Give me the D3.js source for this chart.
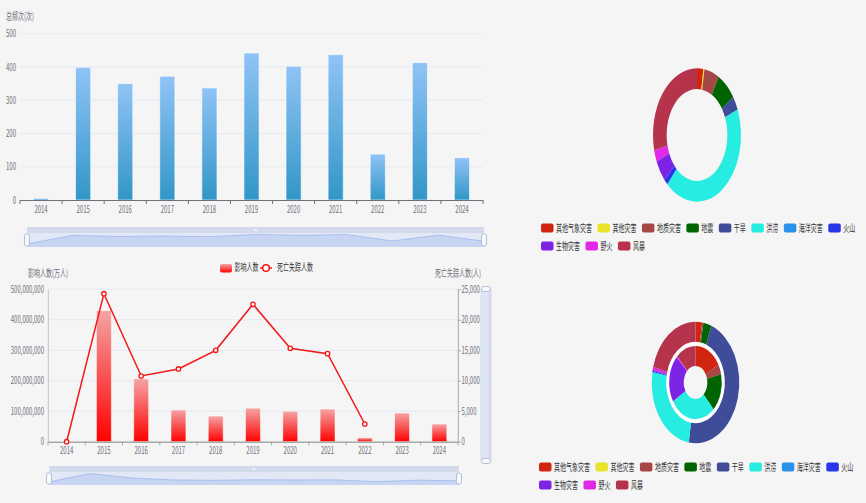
<!DOCTYPE html>
<html>
<head>
<meta charset="utf-8">
<script src="https://cdn.jsdelivr.net/npm/d3@7"></script>
<style>
html, body { margin: 0; padding: 0; background: #f5f5f5; }
svg { display: block; font-family: "Noto Sans CJK SC", "Noto Sans", sans-serif; }
</style>
</head>
<body>
<svg id="chart" width="866" height="503"></svg>
<script>
// data
var years = ["2014", "2015", "2016", "2017", "2018", "2019", "2020", "2021", "2022", "2023", "2024"];
var totalFreq = [5, 399, 350, 372, 337, 442, 402, 437, 138, 413, 127];
var affected = [500000, 430000000, 206000000, 104000000, 84000000, 110000000, 100000000, 107000000, 13000000, 94000000, 58000000];
var deaths = [0, 24280, 10780, 11930, 14990, 22540, 15320, 14440, 2900, null, null];

var types = ["其他气象灾害", "其他灾害", "地质灾害", "地震", "干旱", "洪涝", "海洋灾害", "火山", "生物灾害", "野火", "风暴"];
var typeColors = ["#d22511", "#ebe22c", "#a64646", "#006400", "#3e4c99", "#26ece2", "#2a92ea", "#2b36ea", "#7d23e6", "#e028e6", "#b5334b"];
var freqByType = [79, 14, 185, 246, 116, 1471, 0, 51, 178, 96, 979];
var affectedByType = [24, 0, 5, 30, 465, 253, 0, 3, 3, 8, 208];
var deathsByType = [168, 0, 46, 166, 0, 283, 0, 0, 208, 6, 122];

var legend2 = ["影响人数", "死亡失踪人数"];

// the picture is squeezed sideways, so draw wide and scale
var SX = 0.6, VW = 866 / SX;
function X(px) { return px / SX; }

var svg = d3.select("#chart")
	.attr("viewBox", "0 0 " + VW + " 503")
	.attr("preserveAspectRatio", "none");

var defs = svg.append("defs");
var gb = defs.append("linearGradient").attr("id", "blueGrad").attr("x1", 0).attr("y1", 0).attr("x2", 0).attr("y2", 1);
gb.append("stop").attr("offset", "0%").attr("stop-color", "#90c3f6");
gb.append("stop").attr("offset", "100%").attr("stop-color", "#3197c7");
var gr = defs.append("linearGradient").attr("id", "redGrad").attr("x1", 0).attr("y1", 0).attr("x2", 0).attr("y2", 1);
gr.append("stop").attr("offset", "0%").attr("stop-color", "#f5a4a4");
gr.append("stop").attr("offset", "100%").attr("stop-color", "#ff0000");

function styleAxis(g, color) {
	g.attr("font-family", null).attr("font-size", null);
	g.selectAll("text").attr("fill", "#6e7079").attr("font-size", 10);
	g.select(".domain").attr("stroke", color).attr("vector-effect", "non-scaling-stroke");
	g.selectAll(".tick line").attr("stroke", color).attr("vector-effect", "non-scaling-stroke");
}

// ---------- top bar chart ----------
var xTop = d3.scaleBand().domain(years).range([X(20), X(483)]);
var yTop = d3.scaleLinear().domain([0, 500]).range([200, 33.7]);
var gTop = svg.append("g");

gTop.selectAll("line.grid").data(yTop.ticks(5).filter(function(d) { return d > 0; }))
	.enter().append("line")
	.attr("x1", X(20)).attr("x2", X(483))
	.attr("y1", function(d) { return yTop(d); })
	.attr("y2", function(d) { return yTop(d); })
	.attr("stroke", "#e0e6f1");

var yTopAxis = gTop.append("g").attr("transform", "translate(" + X(20) + ",0)")
	.call(d3.axisLeft(yTop).ticks(5).tickSize(0).tickPadding(X(4)));
yTopAxis.select(".domain").remove();
styleAxis(yTopAxis, "#6e7079");

gTop.append("text").attr("x", X(6)).attr("y", 20).attr("font-size", 10).attr("fill", "#6e7079").text("总频次(次)");

gTop.selectAll("rect.bar").data(totalFreq).enter().append("rect")
	.attr("x", function(d, i) { return xTop(years[i]) + xTop.bandwidth() * 0.32; })
	.attr("width", xTop.bandwidth() * 0.36)
	.attr("y", function(d) { return yTop(d); })
	.attr("height", function(d) { return 200 - yTop(d); })
	.attr("fill", "url(#blueGrad)")
	.attr("stroke", "rgba(255,255,255,0.6)")
	.attr("vector-effect", "non-scaling-stroke");

var xTopAxis = gTop.append("g").attr("transform", "translate(0,200)")
	.call(d3.axisBottom(xTop).tickSize(0).tickSizeOuter(0).tickPadding(6));
styleAxis(xTopAxis, "#6e7079");
gTop.selectAll("line.btick").data(years.concat(["end"])).enter().append("line")
	.attr("x1", function(d) { return d == "end" ? X(483) : xTop(d); })
	.attr("x2", function(d) { return d == "end" ? X(483) : xTop(d); })
	.attr("y1", 200).attr("y2", 204)
	.attr("stroke", "#6e7079").attr("vector-effect", "non-scaling-stroke");

// ---------- sliders ----------
function slider(x0, x1, y0, y1, data) {
	var g = svg.append("g");
	g.append("rect").attr("x", X(x0)).attr("y", y0).attr("width", X(x1 - x0)).attr("height", y1 - y0)
		.attr("fill", "#e2e8f6");
	g.append("rect").attr("x", X(x0)).attr("y", y0).attr("width", X(x1 - x0)).attr("height", 6)
		.attr("fill", "#d3daec");
	g.append("rect").attr("x", X((x0 + x1) / 2 - 1.5)).attr("y", y0 + 2).attr("width", X(3)).attr("height", 2)
		.attr("fill", "#eef1f8");
	var sx = d3.scaleLinear().domain([0, data.length - 1]).range([X(x0), X(x1)]);
	var sy = d3.scaleLinear().domain([0, d3.max(data)]).range([y1 - 3, y0 + 7.5]);
	var area = d3.area().x(function(d, i) { return sx(i); }).y0(y1).y1(function(d) { return sy(d); });
	g.append("path").datum(data).attr("d", area).attr("fill", "#c8d5f2");
	var line = d3.line().x(function(d, i) { return sx(i); }).y(function(d) { return sy(d); });
	g.append("path").datum(data).attr("d", line).attr("fill", "none").attr("stroke", "#a9bff0")
		.attr("vector-effect", "non-scaling-stroke");
	[x0, x1].forEach(function(hx) {
		g.append("rect").attr("x", X(hx - 2.5)).attr("y", y0 + 7).attr("width", X(5)).attr("height", y1 - y0 - 8)
			.attr("rx", X(2)).attr("ry", 2)
			.attr("fill", "#f8f9fc").attr("stroke", "#b4bfd6").attr("vector-effect", "non-scaling-stroke");
	});
}
slider(27, 484, 227, 247, totalFreq);

// ---------- bottom bar + line chart ----------
var xBot = d3.scaleBand().domain(years).range([X(48), X(458)]);
var yL = d3.scaleLinear().domain([0, 500000000]).range([441.7, 289.3]);
var yR = d3.scaleLinear().domain([0, 25000]).range([441.7, 289.3]);
var gBot = svg.append("g");

gBot.selectAll("line.grid").data(yL.ticks(5).filter(function(d) { return d > 0; }))
	.enter().append("line")
	.attr("x1", X(48)).attr("x2", X(458))
	.attr("y1", function(d) { return yL(d); })
	.attr("y2", function(d) { return yL(d); })
	.attr("stroke", "#e0e6f1");

var yLAxis = gBot.append("g").attr("transform", "translate(" + X(48) + ",0)")
	.call(d3.axisLeft(yL).ticks(5).tickFormat(d3.format(",")).tickSize(0).tickSizeOuter(0).tickPadding(X(4)));
styleAxis(yLAxis, "#c4c4c4");
var yRAxis = gBot.append("g").attr("transform", "translate(" + X(458) + ",0)")
	.call(d3.axisRight(yR).ticks(5).tickFormat(d3.format(",")).tickSize(X(3)).tickSizeOuter(0).tickPadding(X(0.5)));
styleAxis(yRAxis, "#a8a8a8");

gBot.append("text").attr("x", X(48)).attr("y", 277).attr("text-anchor", "middle")
	.attr("font-size", 10).attr("fill", "#6e7079").text("影响人数(万人)");
gBot.append("text").attr("x", X(458)).attr("y", 277).attr("text-anchor", "middle")
	.attr("font-size", 10).attr("fill", "#6e7079").text("死亡失踪人数(人)");

gBot.selectAll("rect.bar").data(affected).enter().append("rect")
	.attr("x", function(d, i) { return xBot(years[i]) + xBot.bandwidth() * 0.3; })
	.attr("width", xBot.bandwidth() * 0.4)
	.attr("y", function(d) { return yL(d); })
	.attr("height", function(d) { return 441.7 - yL(d); })
	.attr("fill", "url(#redGrad)")
	.attr("stroke", "rgba(255,255,255,0.5)")
	.attr("vector-effect", "non-scaling-stroke");

var xBotAxis = gBot.append("g").attr("transform", "translate(0,441.7)")
	.call(d3.axisBottom(xBot).tickSize(0).tickSizeOuter(0).tickPadding(5));
styleAxis(xBotAxis, "#a8a8a8");
xBotAxis.select(".domain").attr("stroke-width", 1.5);
gBot.selectAll("line.btick").data(years.concat(["end"])).enter().append("line")
	.attr("x1", function(d) { return d == "end" ? X(458) : xBot(d); })
	.attr("x2", function(d) { return d == "end" ? X(458) : xBot(d); })
	.attr("y1", 441.7).attr("y2", 445.5)
	.attr("stroke", "#a8a8a8").attr("vector-effect", "non-scaling-stroke");

var deathLine = d3.line()
	.defined(function(d) { return d != null; })
	.x(function(d, i) { return xBot(years[i]) + xBot.bandwidth() / 2; })
	.y(function(d) { return yR(d); });
gBot.append("path").datum(deaths).attr("d", deathLine)
	.attr("fill", "none").attr("stroke", "#f21818").attr("stroke-width", 1.5)
	.attr("vector-effect", "non-scaling-stroke");
gBot.selectAll("ellipse.pt").data(deaths.map(function(d, i) { return [i, d]; }).filter(function(p) { return p[1] != null; }))
	.enter().append("ellipse")
	.attr("cx", function(p) { return xBot(years[p[0]]) + xBot.bandwidth() / 2; })
	.attr("cy", function(p) { return yR(p[1]); })
	.attr("rx", X(2.2)).attr("ry", 2.2)
	.attr("fill", "#fff").attr("stroke", "#f21818").attr("stroke-width", 1.3)
	.attr("vector-effect", "non-scaling-stroke");

// legend for bottom chart
var lg = svg.append("g");
lg.append("rect").attr("x", X(220)).attr("y", 264).attr("width", X(12)).attr("height", 8.5)
	.attr("rx", X(2)).attr("ry", 2).attr("fill", "url(#redGrad)");
lg.append("text").attr("x", X(234.5)).attr("y", 271.5).attr("font-size", 10).attr("fill", "#333").text(legend2[0]);
lg.append("line").attr("x1", X(260)).attr("x2", X(272)).attr("y1", 268).attr("y2", 268)
	.attr("stroke", "#f21818").attr("stroke-width", 1.5).attr("vector-effect", "non-scaling-stroke");
lg.append("ellipse").attr("cx", X(266)).attr("cy", 268).attr("rx", X(3.3)).attr("ry", 3.3)
	.attr("fill", "#fff").attr("stroke", "#f21818").attr("stroke-width", 1.5).attr("vector-effect", "non-scaling-stroke");
lg.append("text").attr("x", X(277)).attr("y", 271.5).attr("font-size", 10).attr("fill", "#333").text(legend2[1]);

slider(49, 459, 466, 485, affected);

// vertical slider on the right
var vs = svg.append("g");
vs.append("rect").attr("x", X(481)).attr("y", 289).attr("width", X(10)).attr("height", 172)
	.attr("fill", "#dfe5f4").attr("stroke", "#d2dbee").attr("vector-effect", "non-scaling-stroke");
vs.append("rect").attr("x", X(488.5)).attr("y", 289).attr("width", X(2.5)).attr("height", 172).attr("fill", "#d3daec");
[289, 461].forEach(function(hy) {
	vs.append("rect").attr("x", X(481.5)).attr("y", hy - 2.5).attr("width", X(9)).attr("height", 5)
		.attr("rx", X(2.5)).attr("ry", 2.5)
		.attr("fill", "#f8f9fc").attr("stroke", "#b4bfd6").attr("vector-effect", "non-scaling-stroke");
});

// ---------- donuts ----------
var pie = d3.pie().sort(null).value(function(d) { return d; });

function donut(cx, cy, rx, ry, rings, gap) {
	var g = svg.append("g").attr("transform", "translate(" + X(cx) + "," + cy + ") scale(" + (X(rx) / 100) + "," + (ry / 100) + ")");
	if (gap) {
		g.append("path").attr("d", d3.arc().innerRadius(gap[0]).outerRadius(gap[1]).startAngle(0).endAngle(2 * Math.PI)())
			.attr("fill", "#fdfdfd");
	}
	rings.forEach(function(r) {
		var arc = d3.arc().innerRadius(r.inner).outerRadius(r.outer);
		g.selectAll(null).data(pie(r.values)).enter().append("path")
			.attr("d", arc)
			.attr("fill", function(d, i) { return typeColors[i]; });
	});
}
donut(697, 135, 44, 66.7, [{ values: freqByType, inner: 69, outer: 100 }]);
donut(695.5, 382.5, 43.8, 60.8, [
	{ values: deathsByType, inner: 27, outer: 60 },
	{ values: affectedByType, inner: 67, outer: 100 }
], [59, 68]);

function typeLegend(x0, y0) {
	var g = svg.append("g");
	var x = X(x0), y = y0;
	types.forEach(function(t, i) {
		var item = g.append("g");
		item.append("rect").attr("x", 0).attr("y", -4.5).attr("width", X(12.5)).attr("height", 9)
			.attr("rx", X(2)).attr("ry", 2).attr("fill", typeColors[i]);
		var tx = item.append("text").attr("x", X(15)).attr("y", 3.5).attr("font-size", 10).attr("fill", "#333").text(t);
		var w = X(15) + tx.node().getComputedTextLength();
		if (x + w > X(860)) { x = X(x0); y += 18; }
		item.attr("transform", "translate(" + x + "," + y + ")");
		x += w + X(5.5);
	});
}
typeLegend(541, 228);
typeLegend(539, 467);
</script>
</body>
</html>
